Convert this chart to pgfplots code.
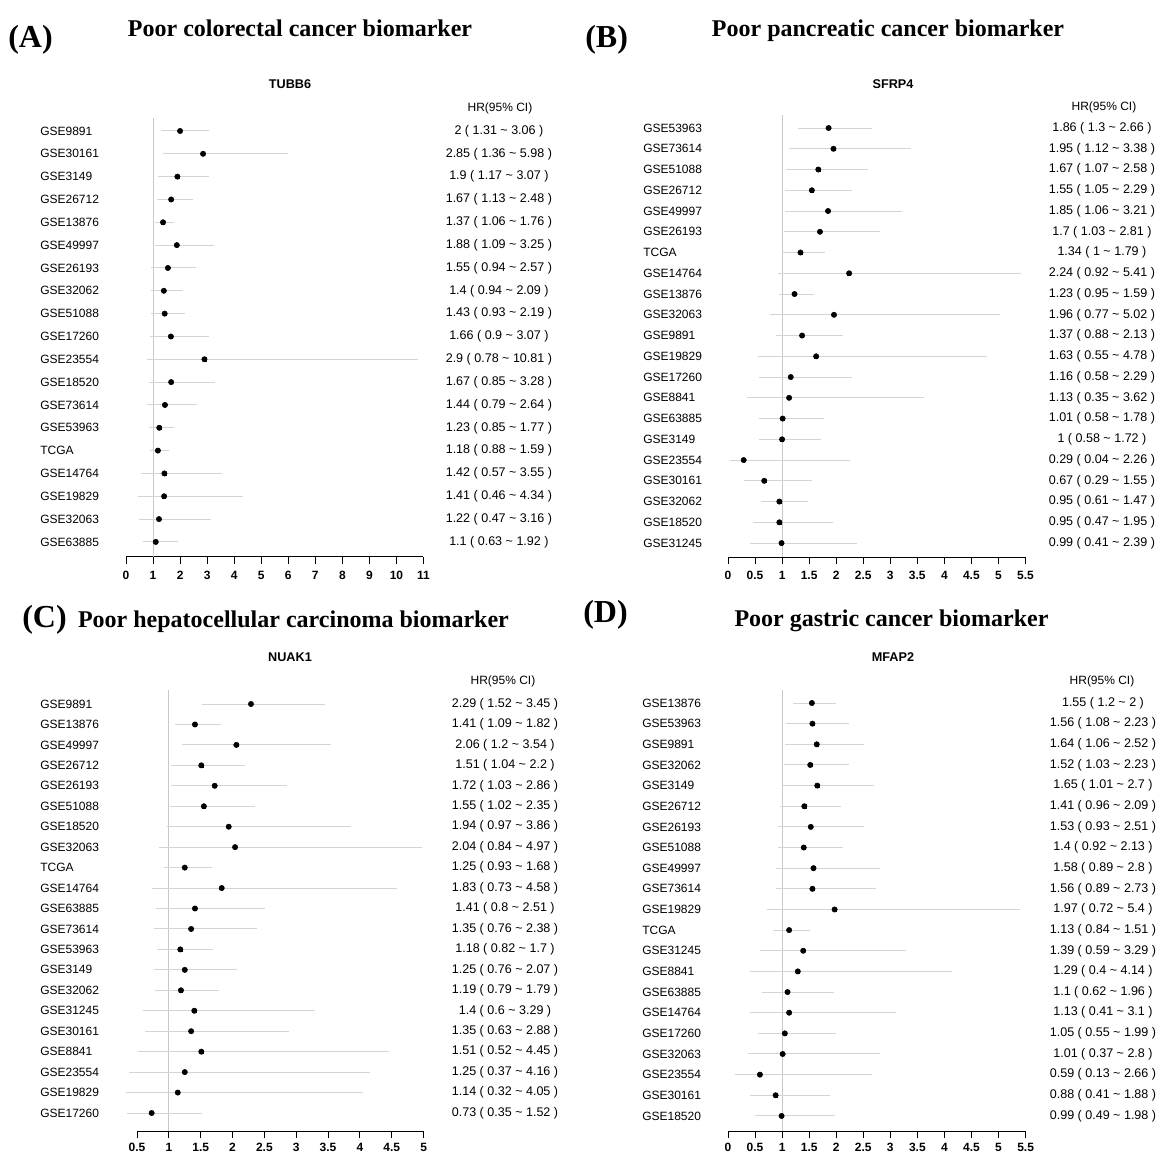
\documentclass[border=0pt]{standalone}
\usepackage{pgfplots}
\pgfplotsset{compat=1.18}
\usepackage{pgfplotstable}
\usepackage{fontspec}
\setmainfont{Liberation Sans}
\newfontfamily\serifbf{Liberation Serif}
\definecolor{cigray}{RGB}{212,212,212}
\definecolor{refgray}{RGB}{200,200,200}
\newcommand{\tl}{\textasciitilde}

\pgfplotstableread{
name hr lo hi txt
GSE9891 2 1.31 3.06 {2 ( 1.31 \tl{} 3.06 )}
GSE30161 2.85 1.36 5.98 {2.85 ( 1.36 \tl{} 5.98 )}
GSE3149 1.9 1.17 3.07 {1.9 ( 1.17 \tl{} 3.07 )}
GSE26712 1.67 1.13 2.48 {1.67 ( 1.13 \tl{} 2.48 )}
GSE13876 1.37 1.06 1.76 {1.37 ( 1.06 \tl{} 1.76 )}
GSE49997 1.88 1.09 3.25 {1.88 ( 1.09 \tl{} 3.25 )}
GSE26193 1.55 0.94 2.57 {1.55 ( 0.94 \tl{} 2.57 )}
GSE32062 1.4 0.94 2.09 {1.4 ( 0.94 \tl{} 2.09 )}
GSE51088 1.43 0.93 2.19 {1.43 ( 0.93 \tl{} 2.19 )}
GSE17260 1.66 0.9 3.07 {1.66 ( 0.9 \tl{} 3.07 )}
GSE23554 2.9 0.78 10.81 {2.9 ( 0.78 \tl{} 10.81 )}
GSE18520 1.67 0.85 3.28 {1.67 ( 0.85 \tl{} 3.28 )}
GSE73614 1.44 0.79 2.64 {1.44 ( 0.79 \tl{} 2.64 )}
GSE53963 1.23 0.85 1.77 {1.23 ( 0.85 \tl{} 1.77 )}
TCGA 1.18 0.88 1.59 {1.18 ( 0.88 \tl{} 1.59 )}
GSE14764 1.42 0.57 3.55 {1.42 ( 0.57 \tl{} 3.55 )}
GSE19829 1.41 0.46 4.34 {1.41 ( 0.46 \tl{} 4.34 )}
GSE32063 1.22 0.47 3.16 {1.22 ( 0.47 \tl{} 3.16 )}
GSE63885 1.1 0.63 1.92 {1.1 ( 0.63 \tl{} 1.92 )}
}\tubb

\pgfplotstableread{
name hr lo hi txt
GSE53963 1.86 1.3 2.66 {1.86 ( 1.3 \tl{} 2.66 )}
GSE73614 1.95 1.12 3.38 {1.95 ( 1.12 \tl{} 3.38 )}
GSE51088 1.67 1.07 2.58 {1.67 ( 1.07 \tl{} 2.58 )}
GSE26712 1.55 1.05 2.29 {1.55 ( 1.05 \tl{} 2.29 )}
GSE49997 1.85 1.06 3.21 {1.85 ( 1.06 \tl{} 3.21 )}
GSE26193 1.7 1.03 2.81 {1.7 ( 1.03 \tl{} 2.81 )}
TCGA 1.34 1 1.79 {1.34 ( 1 \tl{} 1.79 )}
GSE14764 2.24 0.92 5.41 {2.24 ( 0.92 \tl{} 5.41 )}
GSE13876 1.23 0.95 1.59 {1.23 ( 0.95 \tl{} 1.59 )}
GSE32063 1.96 0.77 5.02 {1.96 ( 0.77 \tl{} 5.02 )}
GSE9891 1.37 0.88 2.13 {1.37 ( 0.88 \tl{} 2.13 )}
GSE19829 1.63 0.55 4.78 {1.63 ( 0.55 \tl{} 4.78 )}
GSE17260 1.16 0.58 2.29 {1.16 ( 0.58 \tl{} 2.29 )}
GSE8841 1.13 0.35 3.62 {1.13 ( 0.35 \tl{} 3.62 )}
GSE63885 1.01 0.58 1.78 {1.01 ( 0.58 \tl{} 1.78 )}
GSE3149 1 0.58 1.72 {1 ( 0.58 \tl{} 1.72 )}
GSE23554 0.29 0.04 2.26 {0.29 ( 0.04 \tl{} 2.26 )}
GSE30161 0.67 0.29 1.55 {0.67 ( 0.29 \tl{} 1.55 )}
GSE32062 0.95 0.61 1.47 {0.95 ( 0.61 \tl{} 1.47 )}
GSE18520 0.95 0.47 1.95 {0.95 ( 0.47 \tl{} 1.95 )}
GSE31245 0.99 0.41 2.39 {0.99 ( 0.41 \tl{} 2.39 )}
}\sfrp

\pgfplotstableread{
name hr lo hi txt
GSE9891 2.29 1.52 3.45 {2.29 ( 1.52 \tl{} 3.45 )}
GSE13876 1.41 1.09 1.82 {1.41 ( 1.09 \tl{} 1.82 )}
GSE49997 2.06 1.2 3.54 {2.06 ( 1.2 \tl{} 3.54 )}
GSE26712 1.51 1.04 2.2 {1.51 ( 1.04 \tl{} 2.2 )}
GSE26193 1.72 1.03 2.86 {1.72 ( 1.03 \tl{} 2.86 )}
GSE51088 1.55 1.02 2.35 {1.55 ( 1.02 \tl{} 2.35 )}
GSE18520 1.94 0.97 3.86 {1.94 ( 0.97 \tl{} 3.86 )}
GSE32063 2.04 0.84 4.97 {2.04 ( 0.84 \tl{} 4.97 )}
TCGA 1.25 0.93 1.68 {1.25 ( 0.93 \tl{} 1.68 )}
GSE14764 1.83 0.73 4.58 {1.83 ( 0.73 \tl{} 4.58 )}
GSE63885 1.41 0.8 2.51 {1.41 ( 0.8 \tl{} 2.51 )}
GSE73614 1.35 0.76 2.38 {1.35 ( 0.76 \tl{} 2.38 )}
GSE53963 1.18 0.82 1.7 {1.18 ( 0.82 \tl{} 1.7 )}
GSE3149 1.25 0.76 2.07 {1.25 ( 0.76 \tl{} 2.07 )}
GSE32062 1.19 0.79 1.79 {1.19 ( 0.79 \tl{} 1.79 )}
GSE31245 1.4 0.6 3.29 {1.4 ( 0.6 \tl{} 3.29 )}
GSE30161 1.35 0.63 2.88 {1.35 ( 0.63 \tl{} 2.88 )}
GSE8841 1.51 0.52 4.45 {1.51 ( 0.52 \tl{} 4.45 )}
GSE23554 1.25 0.37 4.16 {1.25 ( 0.37 \tl{} 4.16 )}
GSE19829 1.14 0.32 4.05 {1.14 ( 0.32 \tl{} 4.05 )}
GSE17260 0.73 0.35 1.52 {0.73 ( 0.35 \tl{} 1.52 )}
}\nuak

\pgfplotstableread{
name hr lo hi txt
GSE13876 1.55 1.2 2 {1.55 ( 1.2 \tl{} 2 )}
GSE53963 1.56 1.08 2.23 {1.56 ( 1.08 \tl{} 2.23 )}
GSE9891 1.64 1.06 2.52 {1.64 ( 1.06 \tl{} 2.52 )}
GSE32062 1.52 1.03 2.23 {1.52 ( 1.03 \tl{} 2.23 )}
GSE3149 1.65 1.01 2.7 {1.65 ( 1.01 \tl{} 2.7 )}
GSE26712 1.41 0.96 2.09 {1.41 ( 0.96 \tl{} 2.09 )}
GSE26193 1.53 0.93 2.51 {1.53 ( 0.93 \tl{} 2.51 )}
GSE51088 1.4 0.92 2.13 {1.4 ( 0.92 \tl{} 2.13 )}
GSE49997 1.58 0.89 2.8 {1.58 ( 0.89 \tl{} 2.8 )}
GSE73614 1.56 0.89 2.73 {1.56 ( 0.89 \tl{} 2.73 )}
GSE19829 1.97 0.72 5.4 {1.97 ( 0.72 \tl{} 5.4 )}
TCGA 1.13 0.84 1.51 {1.13 ( 0.84 \tl{} 1.51 )}
GSE31245 1.39 0.59 3.29 {1.39 ( 0.59 \tl{} 3.29 )}
GSE8841 1.29 0.4 4.14 {1.29 ( 0.4 \tl{} 4.14 )}
GSE63885 1.1 0.62 1.96 {1.1 ( 0.62 \tl{} 1.96 )}
GSE14764 1.13 0.41 3.1 {1.13 ( 0.41 \tl{} 3.1 )}
GSE17260 1.05 0.55 1.99 {1.05 ( 0.55 \tl{} 1.99 )}
GSE32063 1.01 0.37 2.8 {1.01 ( 0.37 \tl{} 2.8 )}
GSE23554 0.59 0.13 2.66 {0.59 ( 0.13 \tl{} 2.66 )}
GSE30161 0.88 0.41 1.88 {0.88 ( 0.41 \tl{} 1.88 )}
GSE18520 0.99 0.49 1.98 {0.99 ( 0.49 \tl{} 1.98 )}
}\mfap

\pgfplotsset{
  forest/.style={
    scale only axis, clip=false,
    axis x line*=bottom, axis y line=none, ytick=\empty,
    tick align=outside, major tick length=5.25pt,
    axis line style={black, line width=0.75pt},
    every tick/.style={black, line width=0.75pt},
    xticklabel style={font=\fontsize{9}{10}\selectfont\bfseries, inner sep=1pt, yshift=-4pt},
    /pgf/number format/assume math mode=true,
    anchor=south west,
  },
  refline/.style={refgray, line width=0.75pt},
  cibar/.style={only marks, mark=none,
    error bars/.cd, x dir=both, x explicit, error mark=none,
    error bar style={cigray, line width=0.75pt}},
  hrmark/.style={only marks, mark=square*, mark size=1.15pt, black},
  rowname/.style={only marks, mark=none,
    point meta=explicit symbolic, nodes near coords,
    every node near coord/.append style={anchor=west, inner sep=0pt,
      font=\fontsize{9}{10}\selectfont, text=black}},
  hrtext/.style={only marks, mark=none,
    point meta=explicit symbolic, nodes near coords,
    every node near coord/.append style={anchor=center, inner sep=0pt,
      font=\fontsize{9.4}{10}\selectfont, text=black}},
}

\newcommand{\titlefont}{\serifbf\bfseries\fontsize{18}{20}\selectfont}
\newcommand{\letterfont}{\serifbf\bfseries\fontsize{24}{26}\selectfont}
\newcommand{\genefont}{\bfseries\fontsize{9.5}{11}\selectfont}
\newcommand{\hdrfont}{\fontsize{9}{10}\selectfont}

\begin{document}
\begin{tikzpicture}
\path[use as bounding box] (0pt,0pt) rectangle (870.75pt,-866.25pt);

% Titles
\node[anchor=base west, inner sep=0pt, font=\letterfont] at (6pt,-36pt) {(A)};
\node[anchor=base, inner sep=0pt, font=\titlefont] at (225pt,-27.75pt) {Poor colorectal cancer biomarker};
\node[anchor=base west, inner sep=0pt, font=\letterfont] at (438.75pt,-36pt) {(B)};
\node[anchor=base, inner sep=0pt, font=\titlefont] at (666pt,-27.75pt) {Poor pancreatic cancer biomarker};
\node[anchor=base west, inner sep=0pt, font=\letterfont] at (16.5pt,-471pt) {(C)};
\node[anchor=base, inner sep=0pt, font=\titlefont] at (220.1pt,-470.25pt) {Poor hepatocellular carcinoma biomarker};
\node[anchor=base west, inner sep=0pt, font=\letterfont] at (437.25pt,-467.25pt) {(D)};
\node[anchor=base, inner sep=0pt, font=\titlefont] at (668.6pt,-469.5pt) {Poor gastric cancer biomarker};

\node[font=\genefont] at (217.5pt,-63pt) {TUBB6};
\node[font=\genefont] at (669.75pt,-63pt) {SFRP4};
\node[font=\genefont] at (217.5pt,-492.75pt) {NUAK1};
\node[font=\genefont] at (669.75pt,-492.75pt) {MFAP2};

\node[font=\hdrfont] at (375pt,-81pt) {HR(95\% CI)};
\node[font=\hdrfont] at (828pt,-80.25pt) {HR(95\% CI)};
\node[font=\hdrfont] at (377.25pt,-510.75pt) {HR(95\% CI)};
\node[font=\hdrfont] at (826.5pt,-510.75pt) {HR(95\% CI)};

% Panel A
\begin{axis}[forest, at={(94.5pt,-417.75pt)}, width=223.1pt, height=329.25pt,
  xmin=0, xmax=11, ymin=-19.66, ymax=-0.431, xtick={0,1,...,11}]
\addplot[refline] coordinates {(1,-19.66) (1,-0.431)};
\addplot[cibar] table[x=hr, y expr=-\coordindex-1,
  x error plus expr=\thisrow{hi}-\thisrow{hr},
  x error minus expr=\thisrow{hr}-\thisrow{lo}] {\tubb};
\addplot[hrmark] table[x=hr, y expr=-\coordindex-1] {\tubb};
\addplot[rowname] table[x expr=-3.18, y expr=-\coordindex-1, meta=name] {\tubb};
\addplot[hrtext] table[x expr=13.79, y expr=-\coordindex-1, meta=txt] {\tubb};
\end{axis}

% Panel B
\begin{axis}[forest, at={(546pt,-417.75pt)}, width=223.1pt, height=331.5pt,
  xmin=0, xmax=5.5, ymin=-21.67, ymax=-0.373, xtick={0,0.5,...,5.5}]
\addplot[refline] coordinates {(1,-21.67) (1,-0.373)};
\addplot[cibar] table[x=hr, y expr=-\coordindex-1,
  x error plus expr=\thisrow{hi}-\thisrow{hr},
  x error minus expr=\thisrow{hr}-\thisrow{lo}] {\sfrp};
\addplot[hrmark] table[x=hr, y expr=-\coordindex-1] {\sfrp};
\addplot[rowname] table[x expr=-1.571, y expr=-\coordindex-1, meta=name] {\sfrp};
\addplot[hrtext] table[x expr=6.914, y expr=-\coordindex-1, meta=txt] {\sfrp};
\end{axis}

% Panel C
\begin{axis}[forest, at={(102.75pt,-848.25pt)}, width=214.95pt, height=330.75pt,
  xmin=0.5, xmax=5, ymin=-21.88, ymax=-0.315, xtick={0.5,1,...,5},
  xticklabel style={yshift=1.5pt}]
\addplot[refline] coordinates {(1,-21.88) (1,-0.315)};
\addplot[cibar] table[x=hr, y expr=-\coordindex-1,
  x error plus expr=\thisrow{hi}-\thisrow{hr},
  x error minus expr=\thisrow{hr}-\thisrow{lo}] {\nuak};
\addplot[hrmark] table[x=hr, y expr=-\coordindex-1] {\nuak};
\addplot[rowname] table[x expr=-1.023, y expr=-\coordindex-1, meta=name] {\nuak};
\addplot[hrtext] table[x expr=6.278, y expr=-\coordindex-1, meta=txt] {\nuak};
\end{axis}

% Panel D
\begin{axis}[forest, at={(546pt,-848.25pt)}, width=223.2pt, height=330.75pt,
  xmin=0, xmax=5.5, ymin=-21.73, ymax=-0.37, xtick={0,0.5,...,5.5},
  xticklabel style={yshift=1.5pt}]
\addplot[refline] coordinates {(1,-21.73) (1,-0.37)};
\addplot[cibar] table[x=hr, y expr=-\coordindex-1,
  x error plus expr=\thisrow{hi}-\thisrow{hr},
  x error minus expr=\thisrow{hr}-\thisrow{lo}] {\mfap};
\addplot[hrmark] table[x=hr, y expr=-\coordindex-1] {\mfap};
\addplot[rowname] table[x expr=-1.589, y expr=-\coordindex-1, meta=name] {\mfap};
\addplot[hrtext] table[x expr=6.93, y expr=-\coordindex-1, meta=txt] {\mfap};
\end{axis}
\end{tikzpicture}
\end{document}
